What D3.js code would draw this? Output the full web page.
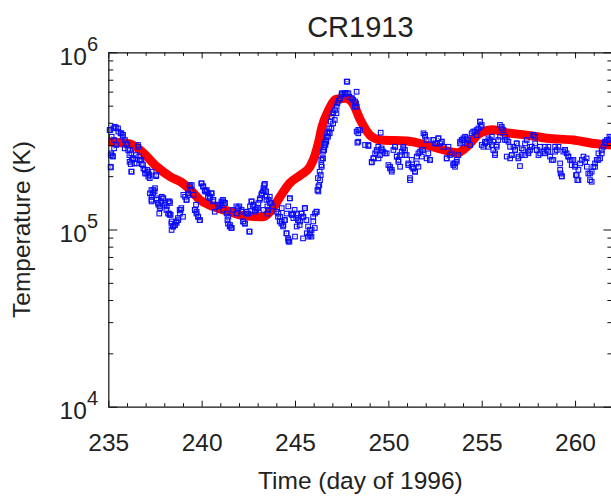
<!DOCTYPE html>
<html><head><meta charset="utf-8">
<script src="https://cdn.jsdelivr.net/npm/d3@7/dist/d3.min.js"></script>
<style>
html,body{margin:0;padding:0;background:#fff;}
text{font-family:"Liberation Sans",Arial,Helvetica,sans-serif;fill:#222;}
</style></head>
<body><svg id="c" width="611" height="499"></svg>
<script>
// ---- data ----
const title = "CR1913";
const xLabel = "Time (day of 1996)";
const yLabel = "Temperature (K)";
const xTicks = [235, 240, 245, 250, 255, 260];
const yTickExps = [4, 5, 6];
// observed temperatures (blue squares): day of 1996, temperature in units of 1e5 K
const blueDay = [
235.09,235.27,235.41,235.54,235.66,235.77,235.18,235.31,235.13,235.23,235.13,235.31,235.89,236.02,236.16,236.13,236.25,236.20,236.34,236.48,
236.61,236.70,236.79,236.25,236.52,236.66,236.88,236.97,237.09,237.20,237.32,237.14,237.56,237.23,237.32,237.41,237.50,237.32,237.59,237.68,
237.77,237.86,237.95,238.04,238.13,238.22,238.30,237.73,238.27,238.34,238.39,238.48,238.57,238.66,238.75,238.84,238.88,238.39,239.02,239.11,
239.20,239.38,239.47,239.29,239.56,239.64,239.73,239.82,239.91,240.00,240.09,240.18,240.27,240.36,240.45,240.54,240.63,239.70,240.89,240.98,
241.07,241.16,241.25,241.34,241.43,241.52,241.61,241.16,241.38,241.88,242.02,242.14,242.23,242.32,242.41,242.55,242.59,242.50,242.68,242.77,
242.86,242.95,243.04,243.13,243.22,243.31,243.39,243.45,243.48,243.59,243.66,243.52,243.31,244.11,244.20,244.29,244.38,244.46,244.55,244.64,
244.73,244.82,244.91,244.55,244.64,244.70,244.29,245.09,245.18,245.27,245.09,245.36,245.45,245.54,245.63,245.71,245.80,245.89,245.98,246.07,
246.16,245.00,245.80,246.25,246.30,246.34,246.43,246.48,246.52,246.61,246.66,246.70,246.73,246.80,246.84,246.91,246.96,247.05,247.14,247.23,
247.27,247.34,247.41,247.50,247.59,247.68,247.77,247.86,246.25,246.38,246.57,
247.50,247.68,247.80,247.91,248.04,248.12,248.21,248.30,248.27,248.30,248.39,248.48,248.34,248.75,248.93,249.11,249.20,249.29,249.37,249.46,
249.55,249.59,249.64,249.73,249.91,250.09,250.18,250.27,250.36,250.45,250.54,250.62,250.71,250.80,250.89,250.98,251.07,251.16,251.25,251.34,
251.43,251.52,251.61,251.70,251.79,251.87,251.96,252.05,252.14,252.23,252.41,252.59,252.68,252.77,252.86,252.95,253.12,253.30,253.48,253.57,
253.66,253.75,253.84,253.93,254.02,254.11,254.20,254.29,254.46,254.64,254.73,254.82,254.91,254.95,255.00,255.09,255.18,255.27,255.36,255.45,
255.54,255.62,255.71,255.80,255.89,255.98,256.07,256.16,256.25,256.34,256.43,256.52,256.61,256.70,256.79,256.87,256.96,257.05,257.14,257.23,
257.32,257.41,257.50,257.59,257.68,257.77,257.86,257.95,258.04,258.12,258.30,258.39,258.48,258.57,258.66,258.84,258.93,259.02,259.11,259.20,
259.23,259.29,259.37,259.46,259.55,259.64,259.73,259.82,259.91,260.00,260.05,260.12,260.18,260.27,260.45,260.62,260.71,260.80,260.89,260.98,
261.07,261.16,261.25,261.34,261.43,261.52,261.61,261.70,261.84,261.91,
235.07,235.34,235.52,235.70,235.79,235.16,235.25,235.13,235.43,235.88,235.97,236.06,236.23,236.14,236.32,236.41,236.59,236.68,236.77,236.86,
236.95,237.04,237.13,237.22,237.57,236.23,237.31,237.39,237.48,237.31,237.57,237.66,237.75,237.84,237.93,238.02,238.11,238.29,238.20,238.38,
238.47,238.56,238.65,238.73,238.82,238.91,239.00,238.29,239.18,239.27,239.36,239.45,239.63,239.72,239.81,239.89,239.98,240.07,240.16,240.25,
240.34,240.43,240.52,240.61,240.70,240.88,241.06,241.14,241.23,241.41,241.50,241.59,241.68,241.86,241.95,242.13,242.22,242.31,242.40,242.57,
242.66,242.75,242.84,242.93,243.02,243.11,243.20,243.29,243.34,243.38,243.47,243.52,243.56,243.65,243.73,243.82,244.00,244.09,244.18,244.27,
244.36,244.45,244.54,244.63,244.66,244.72,244.81,244.90,244.98,245.07,245.16,245.25,245.34,245.43,245.52,245.61,245.70,245.79,245.88,245.43,
245.97,246.06,246.15,246.20,246.23,246.32,246.41,246.50,246.56,246.63,246.68,246.77,246.86,246.95,247.04,247.13,247.22,246.41,246.50,246.59,
247.77,248.04,248.22,248.31,248.39,248.39,248.93,249.11,249.20,249.38,249.47,249.64,249.82,250.00,250.09,250.18,250.36,250.45,250.54,250.63,
250.80,250.89,251.07,251.16,251.25,251.34,251.43,251.52,251.61,251.79,251.88,251.97,252.05,252.23,252.41,252.50,252.68,252.86,253.13,253.22,
253.39,253.48,253.57,253.66,253.84,254.02,254.20,254.38,254.55,254.73,254.91,255.00,255.18,255.36,255.54,255.63,255.72,255.80,255.98,256.07,
256.25,256.34,256.52,256.61,256.79,256.88,256.97,257.14,257.32,257.50,257.59,257.77,257.86,257.95,258.13,258.39,258.57,258.75,258.93,259.20,
259.29,259.47,259.64,259.82,260.00,260.09,260.18,260.36,260.54,260.63,260.80,260.89,261.07,261.25,261.43,261.61,261.79];
const blueTemp = [
3.64,3.72,3.76,3.57,3.49,3.34,3.34,3.20,2.63,2.60,2.24,2.87,3.20,3.00,2.81,2.63,2.47,2.34,2.52,2.63,
2.93,2.47,2.34,2.12,2.36,2.58,2.21,2.07,2.17,2.03,2.12,1.99,2.00,1.60,1.53,1.67,1.71,1.44,1.47,1.38,
1.32,1.53,1.50,1.41,1.35,1.44,1.41,1.23,1.23,1.21,1.11,1.04,1.06,1.09,1.13,1.23,1.29,0.994,1.57,1.53,
1.47,1.75,1.78,1.57,1.57,1.29,1.26,1.18,1.13,1.82,1.75,1.64,1.67,1.60,1.53,1.60,1.47,1.38,1.35,1.38,
1.41,1.44,1.41,1.23,1.18,1.06,1.02,1.29,1.13,1.23,1.35,1.29,1.11,1.08,1.26,0.973,1.35,1.23,1.44,1.38,
1.29,1.32,1.41,1.50,1.60,1.71,1.81,1.64,1.53,1.47,1.41,1.23,1.29,1.23,1.18,1.11,1.06,1.13,1.23,1.35,
1.50,1.21,1.16,0.952,0.873,0.855,1.32,1.23,1.13,1.11,1.04,1.23,1.18,1.32,0.952,0.912,0.931,0.994,1.11,1.23,
1.26,0.912,0.994,1.64,1.78,1.90,2.26,2.52,2.81,3.06,3.20,3.34,3.49,3.57,3.72,4.06,4.33,4.53,4.72,4.93,
5.15,5.33,5.50,5.74,5.87,5.87,6.83,5.87,1.75,2.03,2.91,
5.87,5.84,6.83,5.62,5.50,5.38,4.93,5.99,5.15,3.57,3.49,3.64,3.09,3.00,2.96,2.39,2.52,2.69,2.81,2.93,
2.63,3.52,2.87,2.75,2.69,2.26,2.17,2.81,2.93,2.58,2.41,2.63,2.75,2.93,2.81,2.63,2.31,1.90,2.26,2.21,
2.12,2.36,2.69,2.75,2.58,2.81,3.42,3.20,2.69,2.47,3.20,3.06,3.27,3.06,3.13,2.93,2.52,2.63,2.31,2.36,
2.47,2.63,3.13,3.20,3.27,3.34,3.06,3.20,3.49,3.57,3.64,3.72,4.06,3.80,3.00,2.93,3.06,3.13,3.27,3.20,
3.00,2.81,2.63,2.93,3.20,3.34,3.80,3.64,3.20,2.58,3.13,2.52,2.63,2.93,2.81,3.06,2.52,2.28,2.63,2.81,
3.06,3.20,2.69,2.81,2.93,3.42,3.06,2.81,2.63,2.93,2.75,2.69,2.81,2.93,2.58,2.47,2.75,2.81,2.93,2.36,
2.07,2.00,2.75,2.81,2.69,2.58,2.47,2.31,2.47,2.26,2.03,1.90,2.17,2.36,2.58,2.52,2.07,1.90,2.12,2.26,
2.36,2.47,2.69,2.52,2.81,2.93,3.13,3.20,3.34,3.27,
3.64,3.80,3.72,3.49,3.42,2.69,2.58,2.26,3.00,2.87,3.06,2.81,2.69,2.41,2.52,2.36,3.00,2.47,2.47,2.31,
2.17,2.07,2.12,1.95,2.03,2.12,1.67,1.60,1.64,1.47,1.50,1.41,1.35,1.44,1.50,1.38,1.29,1.44,1.23,1.08,
1.04,1.06,1.11,1.16,1.29,1.32,1.18,1.21,1.47,1.60,1.78,1.67,1.29,1.23,1.18,1.13,1.82,1.75,1.67,1.64,
1.53,1.50,1.60,1.44,1.26,1.38,1.44,1.47,1.41,1.08,1.04,1.02,1.29,1.35,1.32,1.26,1.11,1.08,1.23,0.973,
1.44,1.35,1.26,1.29,1.32,1.47,1.57,1.64,1.78,1.67,1.47,1.35,1.29,1.53,1.41,1.35,1.26,1.18,1.11,1.08,
1.04,1.13,0.952,0.891,0.854,1.50,1.23,1.21,1.29,1.16,1.13,1.06,1.23,1.18,1.32,1.13,1.04,0.952,0.912,0.891,
1.18,1.02,1.26,1.67,1.95,2.12,2.31,2.52,2.81,3.00,3.13,3.34,3.49,3.72,3.97,4.15,4.53,2.47,2.75,3.06,
5.88,5.50,5.27,4.94,3.65,3.13,3.00,2.41,2.52,2.75,2.52,2.81,2.69,2.31,2.21,2.12,2.93,2.58,2.47,2.26,
2.87,2.63,2.36,1.95,2.47,2.21,2.12,2.58,2.26,2.81,3.49,3.34,2.52,2.47,3.20,3.06,3.27,3.13,2.52,2.93,
2.69,2.36,2.26,2.41,3.06,3.20,3.27,3.00,3.57,3.41,4.06,3.89,3.13,2.93,3.34,3.13,2.69,3.00,3.89,3.72,
3.34,3.20,2.93,2.63,2.81,3.06,2.58,2.87,2.63,2.75,2.93,3.41,3.34,2.81,2.69,2.93,2.75,2.47,2.93,2.17,
1.99,2.81,2.58,2.47,2.31,2.03,1.90,2.47,2.41,2.26,2.07,1.86,2.26,2.47,2.69,3.06,3.20];
// model temperature (red curve): day of 1996, temperature in units of 1e5 K
const redDay = [235.0,236.16,236.7,237.6,238.3,239.0,239.4,239.9,240.6,241.5,242.4,243.3,243.75,244.2,244.7,245.3,245.8,246.05,246.25,246.45,
246.8,247.2,247.7,247.85,248.1,248.5,249.1,249.6,251.0,252.4,253.7,254.2,254.9,255.6,256.3,257.4,258.5,259.9,261.0,262.0];
const redTemp = [3.13,3.04,2.81,2.26,1.99,1.82,1.67,1.47,1.35,1.26,1.19,1.18,1.29,1.53,1.82,2.03,2.26,2.58,3.06,3.80,
4.72,5.43,5.50,5.45,5.15,4.15,3.34,3.20,3.16,2.93,2.71,2.93,3.49,3.65,3.52,3.41,3.27,3.20,3.06,3.00];

// ---- layout ----
const svg = d3.select("#c");
const L = 108.3, R = 612.4, T = 52.3, B = 406.7;
const x = d3.scaleLinear().domain([235, 262]).range([L, R]);
const y = d3.scaleLog().domain([1e4, 1e6]).range([B, T]);
const unit = 1e5;

const plot = svg.append("g");
// red model curve
const line = d3.line().x(d => x(d[0])).y(d => y(d[1] * unit)).curve(d3.curveMonotoneX);
plot.append("path").datum(redDay.map((d, i) => [d, redTemp[i]]))
  .attr("d", line).attr("fill", "none").attr("stroke", "#ff0000")
  .attr("stroke-width", 9).attr("stroke-linejoin", "round");

// blue observations
const pts = blueDay.map((d, i) => [d, blueTemp[i]]);
const s = 4.6;
const gp = plot.selectAll("g.b").data(pts).enter().append("g").attr("class", "b")
  .attr("transform", d => `translate(${x(d[0])},${y(d[1] * unit)})`);
gp.append("rect").attr("x", -s / 2).attr("y", -s / 2).attr("width", s).attr("height", s)
  .attr("fill", "none").attr("stroke", "#0a0aff").attr("stroke-width", 1.1);
gp.append("rect").attr("x", -0.6).attr("y", -0.6).attr("width", 1.2).attr("height", 1.2)
  .attr("fill", "#666").attr("opacity", 0.6);

// ---- axes ----
const minorX = d3.range(235, 263, 1).filter(v => v % 5 !== 0);
const minorY = [];
[1e4, 1e5].forEach(b => { for (let k = 2; k <= 9; k++) minorY.push(b * k); });
const majorY = yTickExps.map(e => Math.pow(10, e));

function styleAxis(g) {
  g.select(".domain").attr("stroke", "#111").attr("stroke-width", 1.2);
  g.selectAll(".tick line").attr("stroke", "#111").attr("stroke-width", 1);
}
// bottom
svg.append("g").attr("transform", `translate(0,${B})`)
  .call(d3.axisBottom(x).tickValues(xTicks).tickSize(-6).tickSizeOuter(0).tickPadding(27)
    .tickFormat(d3.format("d")))
  .call(styleAxis)
  .call(g => g.selectAll("text").attr("font-size", 24.5).attr("font-family", "Liberation Sans, Arial, sans-serif").attr("fill", "#222"));
svg.append("g").attr("transform", `translate(0,${B})`)
  .call(d3.axisBottom(x).tickValues(minorX).tickSize(-3.5).tickSizeOuter(0).tickFormat(""))
  .call(styleAxis).call(g => g.select(".domain").remove());
// top
svg.append("g").attr("transform", `translate(0,${T})`)
  .call(d3.axisTop(x).tickValues(xTicks).tickSize(-6).tickSizeOuter(0).tickFormat(""))
  .call(styleAxis);
svg.append("g").attr("transform", `translate(0,${T})`)
  .call(d3.axisTop(x).tickValues(minorX).tickSize(-3.5).tickSizeOuter(0).tickFormat(""))
  .call(styleAxis).call(g => g.select(".domain").remove());
// left
svg.append("g").attr("transform", `translate(${L},0)`)
  .call(d3.axisLeft(y).tickValues(majorY).tickSize(-9).tickSizeOuter(0).tickFormat(""))
  .call(styleAxis);
svg.append("g").attr("transform", `translate(${L},0)`)
  .call(d3.axisLeft(y).tickValues(minorY).tickSize(-5).tickSizeOuter(0).tickFormat(""))
  .call(styleAxis).call(g => g.select(".domain").remove());
// right
svg.append("g").attr("transform", `translate(${R},0)`)
  .call(d3.axisRight(y).tickValues(majorY).tickSize(-9).tickSizeOuter(0).tickFormat(""))
  .call(styleAxis);
svg.append("g").attr("transform", `translate(${R},0)`)
  .call(d3.axisRight(y).tickValues(minorY).tickSize(-5).tickSizeOuter(0).tickFormat(""))
  .call(styleAxis).call(g => g.select(".domain").remove());

// y tick labels with superscripts
const yl = svg.append("g");
yTickExps.forEach(e => {
  const t = yl.append("text").attr("x", 98).attr("y", y(Math.pow(10, e)) + 12.5)
    .attr("text-anchor", "end").attr("font-size", 24.5);
  t.append("tspan").text("10");
  t.append("tspan").attr("dy", -14).attr("font-size", 20).text(String(e));
});

// titles
svg.append("text").attr("x", (L + R) / 2).attr("y", 37).attr("text-anchor", "middle")
  .attr("font-size", 29).text(title);
svg.append("text").attr("x", (L + R) / 2).attr("y", 489).attr("text-anchor", "middle")
  .attr("font-size", 24.5).text(xLabel);
svg.append("text").attr("transform", `translate(30,${(T + B) / 2}) rotate(-90)`)
  .attr("text-anchor", "middle").attr("font-size", 24.5).text(yLabel);
</script></body></html>
